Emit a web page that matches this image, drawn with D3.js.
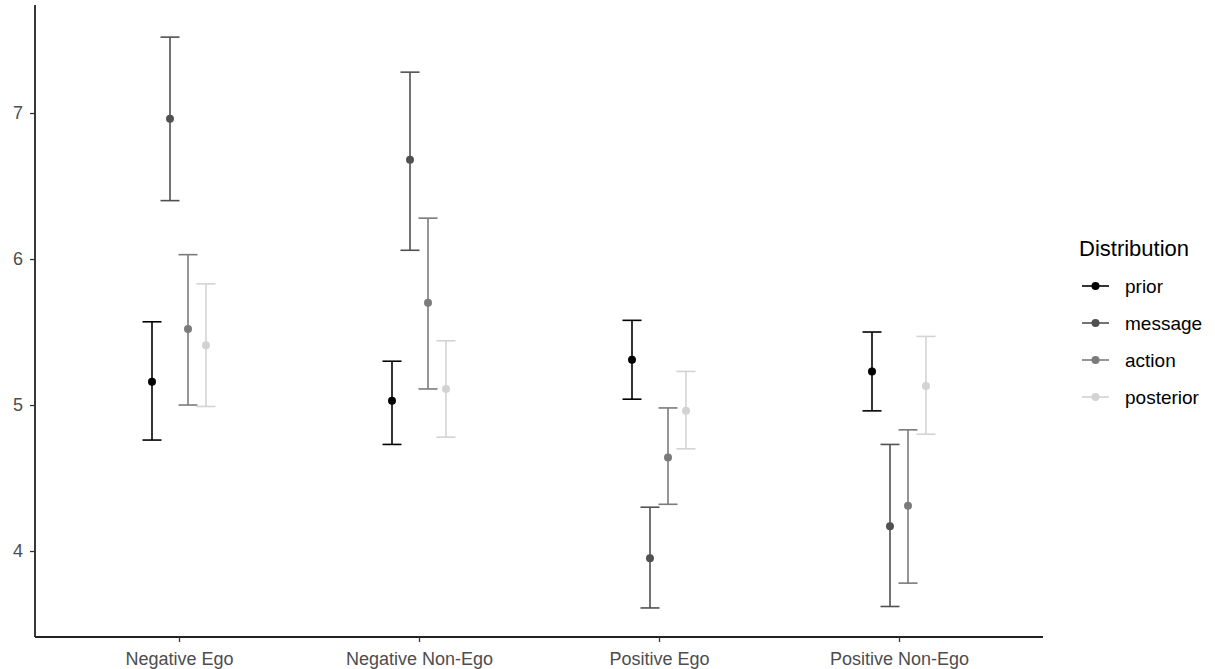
<!DOCTYPE html>
<html>
<head>
<meta charset="utf-8">
<script src="https://cdn.jsdelivr.net/npm/d3@7"></script>
<style>
  body { margin: 0; background: #fff; }
  svg { display: block; font-family: "Liberation Sans", Arial, sans-serif; }
</style>
</head>
<body>
<script>
// data
var categories = ["Negative Ego", "Negative Non-Ego", "Positive Ego", "Positive Non-Ego"];
var series = ["prior", "message", "action", "posterior"];
var colors = ["#000000", "#515151", "#7b7b7b", "#d3d3d3"];
var yTicks = [4, 5, 6, 7];

// mean, lower, upper per series, one entry per category
var prior     = [[5.16, 4.76, 5.57], [5.03, 4.73, 5.30], [5.31, 5.04, 5.58], [5.23, 4.96, 5.50]];
var message   = [[6.96, 6.40, 7.52], [6.68, 6.06, 7.28], [3.95, 3.61, 4.30], [4.17, 3.62, 4.73]];
var action    = [[5.52, 5.00, 6.03], [5.70, 5.11, 6.28], [4.64, 4.32, 4.98], [4.31, 3.78, 4.83]];
var posterior = [[5.41, 4.99, 5.83], [5.11, 4.78, 5.44], [4.96, 4.70, 5.23], [5.13, 4.80, 5.47]];
var values = [prior, message, action, posterior];

var W = 1215, H = 669;
var padL = 35, padR = 1043, padT = 5, padB = 637;

var svg = d3.select("body").append("svg").attr("width", W).attr("height", H);

var x = d3.scalePoint().domain(categories).range([padL, padR]).padding(0.6);
var dodge = d3.scaleBand().domain(series).range([-36, 36]);
var y = d3.scaleLinear().domain([3.411, 7.74]).range([padB, padT]);
var color = d3.scaleOrdinal().domain(series).range(colors);

// flatten into rows
var rows = [];
series.forEach(function (s, si) {
    categories.forEach(function (c, ci) {
        var v = values[si][ci];
        rows.push({ s: s, c: c, m: v[0], lo: v[1], hi: v[2] });
    });
});
function cx(d) { return x(d.c) + dodge(d.s) + dodge.bandwidth() / 2; }
var capHalf = dodge.bandwidth() / 2 + 0.5;

// axes
var yAxis = svg.append("g").attr("transform", "translate(" + padL + ",0)")
    .call(d3.axisLeft(y).tickValues(yTicks).tickSize(5).tickPadding(7).tickFormat(d3.format("d")));
var xAxis = svg.append("g").attr("transform", "translate(0," + padB + ")")
    .call(d3.axisBottom(x).tickSize(5).tickPadding(10));
[yAxis, xAxis].forEach(function (a) {
    a.select(".domain").attr("stroke", "#222").attr("stroke-width", 1.8);
    a.selectAll(".tick line").attr("stroke", "#333").attr("stroke-width", 1.3);
    a.selectAll(".tick text").attr("fill", "#4d4d4d").style("font-size", "18px");
});
xAxis.select(".domain").attr("d", "M" + padL + ",0H" + padR);
yAxis.select(".domain").attr("d", "M0," + padT + "V" + padB);

// error bars
var g = svg.append("g");
var bars = g.selectAll("g.bar").data(rows).enter().append("g").attr("class", "bar")
    .attr("stroke", function (d) { return color(d.s); })
    .attr("stroke-width", 1.6)
    .attr("fill", "none");
bars.append("line")
    .attr("x1", cx).attr("x2", cx)
    .attr("y1", function (d) { return y(d.lo); })
    .attr("y2", function (d) { return y(d.hi); });
bars.append("line")
    .attr("x1", function (d) { return cx(d) - capHalf; })
    .attr("x2", function (d) { return cx(d) + capHalf; })
    .attr("y1", function (d) { return y(d.hi); })
    .attr("y2", function (d) { return y(d.hi); });
bars.append("line")
    .attr("x1", function (d) { return cx(d) - capHalf; })
    .attr("x2", function (d) { return cx(d) + capHalf; })
    .attr("y1", function (d) { return y(d.lo); })
    .attr("y2", function (d) { return y(d.lo); });
g.selectAll("circle").data(rows).enter().append("circle")
    .attr("cx", cx)
    .attr("cy", function (d) { return y(d.m); })
    .attr("r", 4)
    .attr("fill", function (d) { return color(d.s); });

// legend
var legend = svg.append("g").attr("transform", "translate(1079,0)");
legend.append("text").attr("x", 0).attr("y", 256)
    .style("font-size", "22px").attr("fill", "#000").text("Distribution");
var items = legend.selectAll("g.item").data(series).enter().append("g").attr("class", "item")
    .attr("transform", function (d, i) { return "translate(0," + (286 + i * 37) + ")"; });
items.append("line").attr("x1", 3).attr("x2", 30).attr("y1", 0).attr("y2", 0)
    .attr("stroke", function (d) { return color(d); }).attr("stroke-width", 1.6);
items.append("circle").attr("cx", 16.5).attr("cy", 0).attr("r", 4)
    .attr("fill", function (d) { return color(d); });
items.append("text").attr("x", 46).attr("y", 0).attr("dy", "0.35em")
    .style("font-size", "19px").attr("fill", "#000").text(function (d) { return d; });
</script>
</body>
</html>
